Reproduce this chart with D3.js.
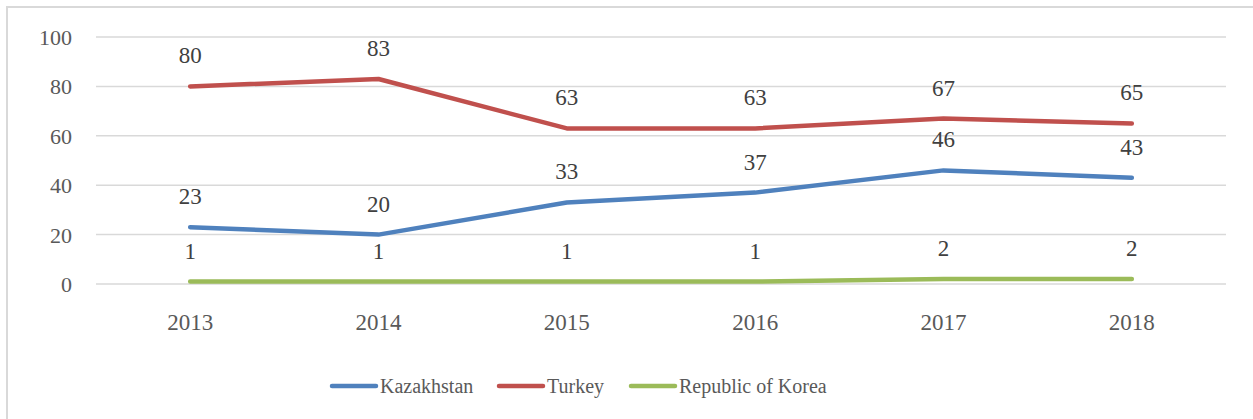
<!DOCTYPE html>
<html>
<head>
<meta charset="utf-8">
<script src="https://cdn.jsdelivr.net/npm/d3@7.9.0/dist/d3.min.js"></script>
<style>body { margin: 0; }</style>
</head>
<body>
<svg width="1253" height="419"></svg>
<script>
const years = ['2013', '2014', '2015', '2016', '2017', '2018'];
const kazakhstan = [23, 20, 33, 37, 46, 43];
const turkey = [80, 83, 63, 63, 67, 65];
const korea = [1, 1, 1, 1, 2, 2];
const yTicks = [0, 20, 40, 60, 80, 100];

const series = [
  { name: 'Kazakhstan', values: kazakhstan, color: '#4f81bd' },
  { name: 'Turkey', values: turkey, color: '#c0504d' },
  { name: 'Republic of Korea', values: korea, color: '#9bbb59' }
];

const svg = d3.select('svg');

// outer frame, open on the right and bottom like the source crop
svg.append('rect')
  .attr('x', 7).attr('y', 7)
  .attr('width', 1260).attr('height', 430)
  .attr('fill', 'none')
  .attr('stroke', '#d9d9d9')
  .attr('stroke-width', 2);

const x = d3.scaleBand().domain(years).range([96, 1226]);
const y = d3.scaleLinear().domain([0, 100]).range([284, 37]);
const cx = (d) => x(d) + x.bandwidth() / 2;

svg.append('g')
  .selectAll('line')
  .data(yTicks)
  .enter()
  .append('line')
  .attr('x1', 96).attr('x2', 1226)
  .attr('y1', (d) => y(d)).attr('y2', (d) => y(d))
  .attr('stroke', '#d9d9d9')
  .attr('stroke-width', 1.5);

svg.append('g')
  .selectAll('text')
  .data(yTicks)
  .enter()
  .append('text')
  .attr('x', 72)
  .attr('y', (d) => y(d) + 8)
  .attr('text-anchor', 'end')
  .attr('fill', '#595959')
  .style('font-family', () => '"Times New Roman"')
  .style('font-size', () => '22px')
  .text((d) => d);

svg.append('g')
  .selectAll('text')
  .data(years)
  .enter()
  .append('text')
  .attr('x', (d) => cx(d))
  .attr('y', 330)
  .attr('text-anchor', 'middle')
  .attr('fill', '#595959')
  .style('font-family', () => '"Liberation Serif"')
  .style('font-size', () => '23px')
  .text((d) => d);

const line = d3.line()
  .x((d, i) => cx(years[i]))
  .y((d) => y(d));

series.forEach((s) => {
  svg.append('path')
    .datum(s.values)
    .attr('d', line)
    .attr('fill', 'none')
    .attr('stroke', s.color)
    .attr('stroke-width', 4.5)
    .attr('stroke-linecap', 'round')
    .attr('stroke-linejoin', 'round');
});

series.forEach((s) => {
  svg.append('g')
    .selectAll('text')
    .data(s.values)
    .enter()
    .append('text')
    .attr('x', (d, i) => cx(years[i]))
    .attr('y', (d) => y(d) - 23)
    .attr('text-anchor', 'middle')
    .attr('fill', '#404040')
    .style('font-family', () => '"Tinos"')
    .style('font-size', () => '23px')
    .text((d) => d);
});

// legend
const legendX = [332, 499, 631];
series.forEach((s, i) => {
  svg.append('line')
    .attr('x1', legendX[i]).attr('x2', legendX[i] + 44)
    .attr('y1', 386).attr('y2', 386)
    .attr('stroke', s.color)
    .attr('stroke-width', 4.5)
    .attr('stroke-linecap', 'round');
  svg.append('text')
    .attr('x', legendX[i] + 48)
    .attr('y', 393)
    .attr('fill', '#595959')
    .style('font-family', () => 'serif')
    .style('font-size', () => '20px')
    .text(s.name);
});
</script>
</body>
</html>
